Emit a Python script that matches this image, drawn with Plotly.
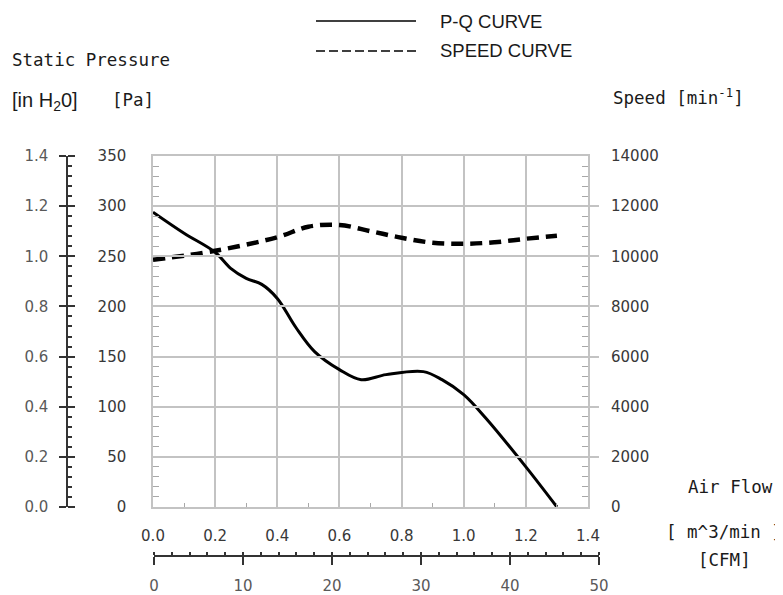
import plotly.graph_objects as go

W, H = 783, 595
OFF = 8  # page body margin of the saved html

# P-Q curve : air flow [m^3/min] -> static pressure [Pa]
pq_flow = [0, 0.1, 0.2, 0.25, 0.3, 0.35, 0.4, 0.46, 0.52, 0.6, 0.67,
           0.75, 0.87, 0.93, 1.0, 1.07, 1.2, 1.3]
pq_pressure = [294, 273, 254, 238, 228, 222, 208, 179, 155, 137, 127,
               132, 135, 127, 112, 89, 40, 0]

# speed curve : air flow [m^3/min] -> speed [min-1]
speed_flow = [0, 0.2, 0.4, 0.5, 0.6, 0.7, 0.8, 0.9, 1.0, 1.1, 1.2, 1.3]
speed_rpm = [9860, 10220, 10760, 11180, 11250, 11000, 10740, 10540, 10500,
             10560, 10700, 10820]

flow_range = [0, 1.4]
pa_range = [0, 350]
rpm_range = [0, 14000]
inh2o_range = [0, 1.4]
cfm_range = [0, 50]

GRID = '#c3c3c3'
LABEL = '#383838'
GRAYLABEL = '#595959'
TICK = '#333333'
MONO = 'DejaVu Sans Mono'
SANS = 'DejaVu Sans'


def px(x, y):
    '''screen pixel position -> paper coordinates (margins are zero)'''
    return (x - OFF) / W, 1 - (y - OFF) / H


x0, y_top = px(153, 156)
x1, y_bot = px(588, 507)
h2o_pos, _ = px(67, 0)
cfm_x0, cfm_pos = px(154, 556)
cfm_x1, _ = px(599, 556)

fig = go.Figure()

fig.add_trace(go.Scatter(
    x = pq_flow,
    y = pq_pressure,
    mode = 'lines',
    line = {'color': 'black', 'width': 3, 'shape': 'spline', 'smoothing': 1.0},
    name = 'P-Q CURVE',
    cliponaxis = False
))

fig.add_trace(go.Scatter(
    x = speed_flow,
    y = speed_rpm,
    yaxis = 'y2',
    mode = 'lines',
    line = {'color': 'black', 'width': 4.5, 'dash': '12px,7px',
            'shape': 'spline', 'smoothing': 1.0},
    name = 'SPEED CURVE'
))

# invisible carriers so that the secondary scales get drawn
for xa, ya, xs, ys in [('x', 'y3', flow_range, inh2o_range),
                       ('x', 'y4', flow_range, inh2o_range),
                       ('x2', 'y', cfm_range, pa_range)]:
    fig.add_trace(go.Scatter(
        x = xs,
        y = ys,
        xaxis = xa,
        yaxis = ya,
        mode = 'markers',
        marker = {'opacity': 0},
        hoverinfo = 'skip',
        showlegend = False
    ))

common_minor = {'ticks': 'inside', 'ticklen': 5, 'tickcolor': '#a8a8a8',
                'tickwidth': 1, 'showgrid': False}

fig.update_layout({
    'template': 'none',
    'width': W,
    'height': H,
    'showlegend': False,
    'plot_bgcolor': 'rgba(0,0,0,0)',
    'paper_bgcolor': 'white',
    'margin': {'t': 0, 'b': 0, 'l': 0, 'r': 0, 'pad': 0},
    'font': {'family': SANS, 'size': 15, 'color': LABEL},
    'xaxis': {
        'domain': [x0, x1],
        'range': flow_range,
        'automargin': False,
        'dtick': 0.2,
        'tickformat': '.1f',
        'showgrid': True,
        'gridcolor': GRID,
        'gridwidth': 1.5,
        'showline': True,
        'linecolor': GRID,
        'linewidth': 1.5,
        'mirror': True,
        'zeroline': False,
        'ticks': '',
        'ticklabelstandoff': 14,
        'tickfont': {'size': 15, 'color': LABEL},
        'minor': dict(common_minor, dtick=0.1, ticklen=4),
    },
    'yaxis': {
        'domain': [y_bot, y_top],
        'range': pa_range,
        'automargin': False,
        'dtick': 50,
        'showgrid': True,
        'gridcolor': GRID,
        'gridwidth': 1.5,
        'showline': True,
        'linecolor': GRID,
        'linewidth': 1.5,
        'mirror': True,
        'zeroline': False,
        'ticks': '',
        'ticklabelstandoff': 22,
        'tickfont': {'size': 15, 'color': LABEL},
        'minor': dict(common_minor, dtick=10, ticklen=6),
    },
    'yaxis2': {
        'overlaying': 'y',
        'side': 'right',
        'range': rpm_range,
        'automargin': False,
        'dtick': 2000,
        'tickformat': 'd',
        'showgrid': False,
        'zeroline': False,
        'showline': False,
        'ticks': '',
        'ticklabelstandoff': 22,
        'tickfont': {'size': 15, 'color': LABEL},
        'minor': dict(common_minor, dtick=400, ticklen=6),
    },
    # inH2O scale, outer part of the major ticks + labels
    'yaxis3': {
        'overlaying': 'y',
        'anchor': 'free',
        'position': h2o_pos,
        'side': 'left',
        'range': inh2o_range,
        'automargin': False,
        'dtick': 0.2,
        'tickformat': '.1f',
        'showgrid': False,
        'zeroline': False,
        'showline': True,
        'linecolor': TICK,
        'linewidth': 1.5,
        'ticks': 'outside',
        'ticklen': 7,
        'tickwidth': 1.5,
        'tickcolor': TICK,
        'ticklabelstandoff': 8,
        'tickfont': {'size': 15, 'color': GRAYLABEL},
    },
    # inH2O scale, inner major + minor ticks
    'yaxis4': {
        'overlaying': 'y',
        'anchor': 'free',
        'position': h2o_pos,
        'side': 'right',
        'range': inh2o_range,
        'automargin': False,
        'dtick': 0.2,
        'showticklabels': False,
        'showgrid': False,
        'zeroline': False,
        'showline': False,
        'ticks': 'outside',
        'ticklen': 7,
        'tickwidth': 1.5,
        'tickcolor': TICK,
        'minor': {'dtick': 0.04, 'ticks': 'outside', 'ticklen': 4,
                  'tickwidth': 1.5, 'tickcolor': TICK, 'showgrid': False},
    },
    # CFM scale under the chart
    'xaxis2': {
        'anchor': 'free',
        'position': cfm_pos,
        'domain': [cfm_x0, cfm_x1],
        'range': cfm_range,
        'automargin': False,
        'dtick': 10,
        'showgrid': False,
        'zeroline': False,
        'showline': True,
        'linecolor': TICK,
        'linewidth': 1.5,
        'ticks': 'outside',
        'ticklen': 8,
        'tickwidth': 1.5,
        'tickcolor': TICK,
        'ticklabelstandoff': 8,
        'tickfont': {'size': 15, 'color': GRAYLABEL},
        'minor': {'dtick': 2, 'ticks': 'inside', 'ticklen': 3,
                  'tickwidth': 1.5, 'tickcolor': TICK, 'showgrid': False},
    },
})

# axis titles and legend text
texts = [
    ('Static Pressure', 10, 60, MONO, 17.5, 'left'),
    ('[in H<sub>2</sub>0]', 10, 101, 'Liberation Sans', 20, 'left'),
    ('[Pa]', 110, 100, MONO, 17.5, 'left'),
    ('Speed [min<sup>-1</sup>]', 611, 97, MONO, 17.5, 'left'),
    ('P-Q CURVE', 438, 21, 'Liberation Sans', 18.5, 'left'),
    ('SPEED CURVE', 438, 51, 'Liberation Sans', 18.5, 'left'),
    ('Air Flow', 730, 487, MONO, 17.5, 'center'),
    ('[ m^3/min ]', 724, 532, MONO, 17.5, 'center'),
    ('[CFM]', 724, 560, MONO, 17.5, 'center'),
]

annotations = []
for text, x, y, family, size, anchor in texts:
    ax, ay = px(x, y)
    annotations.append({
        'text': text,
        'xref': 'paper',
        'yref': 'paper',
        'x': ax,
        'y': ay,
        'xanchor': anchor,
        'yanchor': 'middle',
        'showarrow': False,
        'font': {'family': family, 'size': size, 'color': '#1a1a1a'},
    })

fig.update_layout(annotations=annotations)

# legend sample lines
for y, dash in [(21, 'solid'), (51, '9px,4px')]:
    lx0, ly = px(316, y)
    lx1, _ = px(416, y)
    fig.add_shape(
        type = 'line',
        xref = 'paper',
        yref = 'paper',
        x0 = lx0, x1 = lx1, y0 = ly, y1 = ly,
        line = {'color': 'black', 'width': 1.5, 'dash': dash}
    )

fig.write_html('out.html')
